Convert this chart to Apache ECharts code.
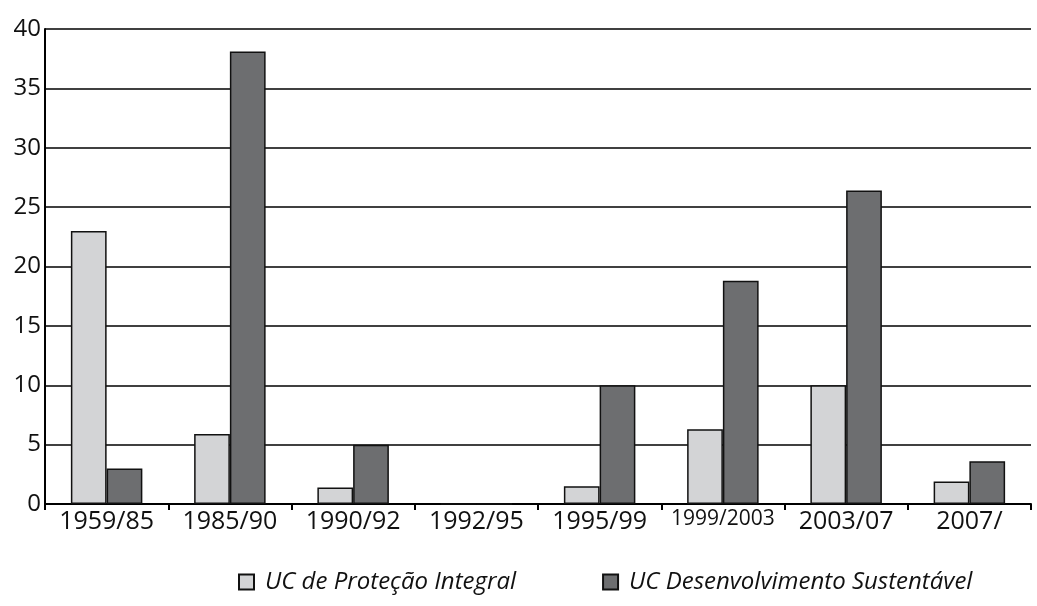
<!DOCTYPE html>
<html><head><meta charset="utf-8">
<script src="https://cdn.jsdelivr.net/npm/echarts@6/dist/echarts.min.js"></script>
<style>html,body{margin:0;padding:0;background:#fff}#c{width:1037px;height:606px}</style>
</head><body><div id="c"></div>
<script>
const categories = ['1959/85','1985/90','1990/92','1992/95','1995/99','1999/2003','2003/07','2007/'];
const protecaoIntegral = [23.0, 5.9, 1.4, 0, 1.5, 6.3, 10.0, 1.9];
const desenvolvimentoSustentavel = [3.0, 38.1, 5.0, 0, 10.0, 18.8, 26.4, 3.6];
const seriesNames = ['UC de Proteção Integral', 'UC Desenvolvimento Sustentável'];
const yTicks = {min: 0, max: 40, interval: 5};

const FONT = 'Open Sans';
const chart = echarts.init(document.getElementById('c'));
chart.setOption({
  animation: false,
  backgroundColor: '#fff',
  grid: {left: 45, right: 6, top: 29, bottom: 102},
  legend: {
    left: 233, top: 565, itemGap: 86, itemWidth: 15, itemHeight: 15,
    icon: 'rect',
    textStyle: {fontFamily: FONT, fontStyle: 'italic', fontSize: 24, color: '#111', padding: [0,0,0,6]},
    data: seriesNames
  },
  xAxis: {
    type: 'category',
    data: categories.map(c => c === '1999/2003' ? {value: c, textStyle: {fontSize: 21}} : c),
    axisLine: {lineStyle: {color: '#000', width: 2}},
    axisTick: {show: true, length: 6, lineStyle: {color: '#000', width: 2}},
    axisLabel: {fontFamily: FONT, fontSize: 25, color: '#111', margin: 5, interval: 0}
  },
  yAxis: {
    type: 'value', min: yTicks.min, max: yTicks.max, interval: yTicks.interval,
    axisLine: {show: true, lineStyle: {color: '#000', width: 2}},
    axisTick: {show: false},
    splitLine: {lineStyle: {color: '#000', width: 1.5}},
    axisLabel: {fontFamily: FONT, fontSize: 24, color: '#111', margin: 4}
  },
  series: [
    {name: seriesNames[0], type: 'bar', data: protecaoIntegral, barGap: '0%', barCategoryGap: '42%',
     itemStyle: {color: '#d3d4d6', borderColor: '#111', borderWidth: 1.5}},
    {name: seriesNames[1], type: 'bar', data: desenvolvimentoSustentavel, barGap: '0%', barCategoryGap: '42%',
     itemStyle: {color: '#6d6e70', borderColor: '#111', borderWidth: 1.5}}
  ]
});
</script></body></html>
